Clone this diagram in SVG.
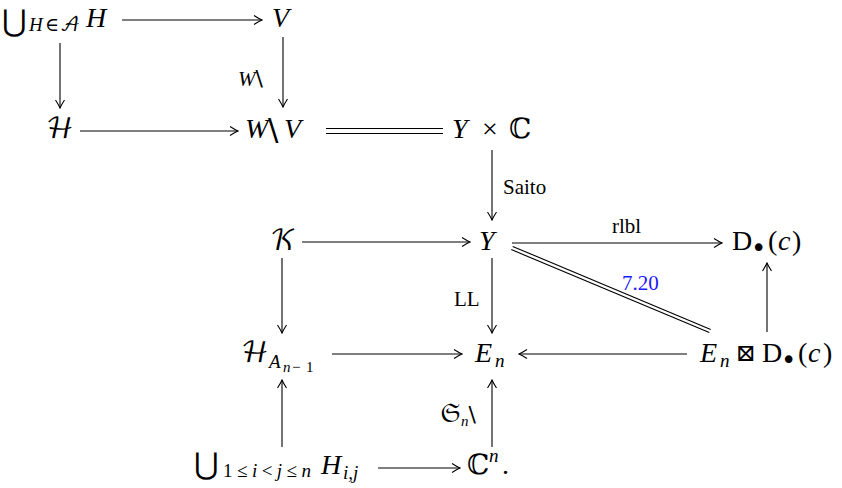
<svg xmlns="http://www.w3.org/2000/svg" width="842" height="488" viewBox="0 0 842 488">
<style>
text{font-family:"Liberation Serif","DejaVu Serif",serif;fill:#000;}
.m{font-size:28px;}
.i{font-style:italic;}
.s{font-size:19px;}
.ss{font-size:15px;}
.lb{font-size:21px;}
.c{stroke:#000;stroke-width:1.1;fill:none;}
.a{marker-end:url(#ah);}
.sym{font-family:"DejaVu Serif","DejaVu Sans",serif;}
.cal{font-family:"DejaVu Math TeX Gyre","DejaVu Serif",serif;font-style:normal;}
.bs{font-family:"DejaVu Sans",sans-serif;font-style:normal;}
</style>
<defs>
<marker id="ah" viewBox="-10 -6 11 12" refX="0" refY="0" markerWidth="11" markerHeight="12" markerUnits="userSpaceOnUse" orient="auto">
<path d="M-8,-4.5 Q-3,-1.3 0,0 Q-3,1.3 -8,4.5" fill="none" stroke="#000" stroke-width="1.1"/>
</marker>
</defs>
<rect width="842" height="488" fill="#fff"/>
<g id="connectors">
<line class="c a" x1="122" y1="20" x2="262" y2="20"/>
<line class="c a" x1="60" y1="43" x2="60" y2="108"/>
<line class="c a" x1="283" y1="37" x2="283" y2="107"/>
<line class="c a" x1="80" y1="131" x2="238" y2="131"/>
<line class="c" x1="326" y1="128.5" x2="443" y2="128.5"/>
<line class="c" x1="326" y1="133.5" x2="443" y2="133.5"/>
<line class="c a" x1="492" y1="150" x2="492" y2="220"/>
<line class="c a" x1="302" y1="242" x2="470" y2="242"/>
<line class="c a" x1="512" y1="243" x2="722" y2="243"/>
<line class="c" x1="512.7" y1="246.4" x2="710.7" y2="329.4"/>
<line class="c" x1="511.3" y1="249.6" x2="709.3" y2="332.6"/>
<line class="c a" x1="282" y1="258" x2="282" y2="333"/>
<line class="c a" x1="492" y1="258" x2="492" y2="333"/>
<line class="c a" x1="767" y1="332" x2="767" y2="263"/>
<line class="c a" x1="332" y1="354" x2="462" y2="354"/>
<line class="c a" x1="687" y1="354" x2="519" y2="354"/>
<line class="c a" x1="282" y1="447" x2="282" y2="380"/>
<line class="c a" x1="492" y1="447" x2="492" y2="380"/>
<line class="c a" x1="378" y1="468" x2="460" y2="468"/>
</g>
<g id="labels">
<text class="lb" x="238" y="86"><tspan class="i">W</tspan><tspan class="bs" font-size="22">\</tspan></text>
<text class="lb" x="503" y="194">Saito</text>
<text class="lb" x="612" y="233">rlbl</text>
<text class="lb" x="622" y="290" style="fill:#1a1aff">7.20</text>
<text class="lb" x="454" y="306">LL</text>
<text class="lb" x="440" y="422"><tspan class="cal" font-size="22">𝔖</tspan><tspan class="i ss" dy="4">n</tspan><tspan class="bs" font-size="22" dy="-4">\</tspan></text>
</g>
<g id="n-unionH">
<text class="m"><tspan class="sym" font-size="30" x="2" y="31">⋃</tspan><tspan class="i s" x="29" y="31">H</tspan><tspan class="s sym" x="45" y="31">∈</tspan><tspan class="s cal" x="60" y="31">𝒜</tspan><tspan class="i" x="86" y="27">H</tspan></text>
</g>
<g id="n-V"><text class="m i" x="272" y="27">V</text></g>
<g id="n-calH"><text class="m cal" x="46" y="138">ℋ</text></g>
<g id="n-WV"><text class="m"><tspan class="i" x="245" y="138">W</tspan><tspan class="bs" font-size="31" x="268" y="140">\</tspan><tspan class="i" x="284" y="138">V</tspan></text></g>
<g id="n-YC"><text class="m"><tspan class="i" x="452" y="138">Y</tspan><tspan x="482" y="138">×</tspan><tspan class="sym" x="509" y="138">ℂ</tspan></text></g>
<g id="n-K"><text class="m cal" x="270" y="250">𝒦</text></g>
<g id="n-Y"><text class="m i" x="479" y="250">Y</text></g>
<g id="n-D"><text class="m"><tspan x="732" y="250">D</tspan><tspan class="bs" font-size="26" x="751" y="257">•</tspan><tspan x="768" y="250">(</tspan><tspan class="i" x="778" y="250">c</tspan><tspan x="792" y="250">)</tspan></text></g>
<g id="n-HA"><text class="m"><tspan class="cal" x="241" y="362">ℋ</tspan><tspan class="i s" x="269" y="368">A</tspan><tspan class="i ss" x="283" y="372">n</tspan><tspan class="ss" x="292" y="372">−</tspan><tspan class="ss" x="306" y="372">1</tspan></text></g>
<g id="n-En"><text class="m"><tspan class="i" x="475" y="362">E</tspan><tspan class="i s" x="495" y="367">n</tspan></text></g>
<g id="n-EnD"><text class="m"><tspan class="i" x="700" y="362">E</tspan><tspan class="i s" x="720" y="367">n</tspan><tspan class="sym" font-size="24" x="736" y="361">⊠</tspan><tspan x="762" y="362">D</tspan><tspan class="bs" font-size="26" x="781" y="369">•</tspan><tspan x="798" y="362">(</tspan><tspan class="i" x="808" y="362">c</tspan><tspan x="823" y="362">)</tspan></text></g>
<g id="n-unionHij"><text class="m"><tspan class="sym" font-size="30" x="194" y="474">⋃</tspan><tspan class="s" x="223" y="477" textLength="88">1≤<tspan class="i">i</tspan>&lt;<tspan class="i">j</tspan>≤<tspan class="i">n</tspan></tspan><tspan class="i" x="321" y="474">H</tspan><tspan class="i s" x="343" y="479">i,j</tspan></text></g>
<g id="n-Cn"><text class="m"><tspan class="sym" x="467" y="474">ℂ</tspan><tspan class="i s" x="489" y="462">n</tspan><tspan x="502" y="474">.</tspan></text></g>
</svg>
